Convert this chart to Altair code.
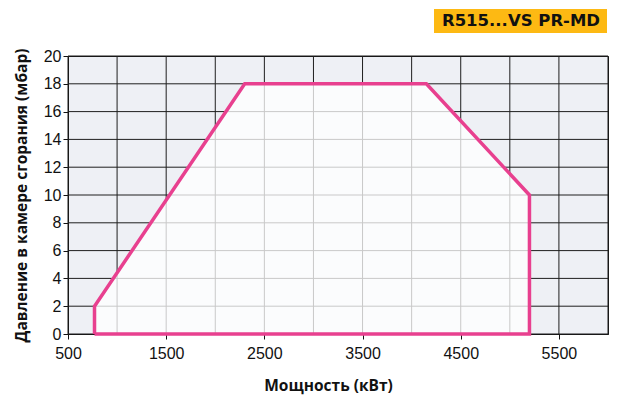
import altair as alt
import pandas as pd

# Envelope (working field) of the burner
env_x = [770, 770, 2300, 4150, 5200, 5200, 770]
env_y = [0, 2, 18, 18, 10, 0, 0]

x_grid = list(range(500, 6001, 500))
y_grid = list(range(0, 21, 2))
x_labels = [500, 1500, 2500, 3500, 4500, 5500]
y_labels = list(range(0, 21, 2))

badge_text = "R515...VS PR-MD"
x_title = "Мощность (кВт)"
y_title = "Давление в камере сгорания (мбар)"

W, H = 540, 278
PINK = "#e8408f"

outline = pd.DataFrame({"x": env_x, "y": env_y, "i": list(range(len(env_x)))})
fill = outline[outline["y"] > 0].drop_duplicates(subset=["x", "y"])

xs = alt.Scale(domain=[500, 6000], nice=False, zero=False)
ys = alt.Scale(domain=[0, 20], nice=False)

xaxis = alt.Axis(
    values=x_labels, title=x_title, grid=False, tickSize=5, labelPadding=6,
    titlePadding=17, labelFontSize=16, labelFont="Liberation Sans", format="d",
    labelFlush=False, titleX=W / 2 - 10,
    titleFont="Open Sans", titleFontSize=15.5, titleFontWeight="bold",
    labelColor="#111", titleColor="#111", domainColor="#111", tickColor="#111",
)
yaxis = alt.Axis(
    values=y_labels, title=y_title, grid=False, tickSize=5, labelPadding=2,
    titlePadding=14, labelFontSize=16, labelFont="Liberation Sans", format="d",
    labelFlush=False,
    titleFont="Open Sans", titleFontSize=15.5, titleFontWeight="bold",
    labelColor="#111", titleColor="#111", domainColor="#111", tickColor="#111",
)

vgrid = alt.Chart(pd.DataFrame({"v": x_grid})).mark_rule(color="#1e1e1e", strokeWidth=1).encode(
    x=alt.X("v:Q", scale=xs, axis=xaxis)
)
hgrid = alt.Chart(pd.DataFrame({"v": y_grid})).mark_rule(color="#1e1e1e", strokeWidth=1).encode(
    y=alt.Y("v:Q", scale=ys, axis=yaxis)
)

area = alt.Chart(fill).mark_area(color="white", fillOpacity=0.76).encode(
    x=alt.X("x:Q", scale=xs, axis=xaxis),
    y=alt.Y("y:Q", scale=ys, axis=yaxis),
)

line = alt.Chart(outline).mark_line(color=PINK, strokeWidth=3.5, strokeJoin="miter").encode(
    x=alt.X("x:Q", scale=xs, axis=xaxis),
    y=alt.Y("y:Q", scale=ys, axis=yaxis),
    order="i:Q",
)

badge_df = pd.DataFrame({"t": [badge_text]})
badge_rect = alt.Chart(badge_df).mark_rect(color="#fdb913").encode(
    x=alt.value(366), x2=alt.value(539), y=alt.value(-47), y2=alt.value(-23)
)
badge_label = alt.Chart(badge_df).mark_text(
    font="DejaVu Sans", fontWeight="bold", fontSize=16.5, color="#111",
    align="center", baseline="middle",
).encode(x=alt.value(453), y=alt.value(-35), text="t:N")

chart = alt.layer(vgrid, hgrid, area, line, badge_rect, badge_label).properties(
    width=W, height=H,
    autosize=alt.AutoSizeParams(type="none"),
    padding={"left": 60, "top": 48, "right": 20, "bottom": 68},
).configure_view(fill="#eef0f5", stroke="#111", strokeWidth=1)

chart.save("out.html", embed_options={"renderer": "svg", "actions": False})
